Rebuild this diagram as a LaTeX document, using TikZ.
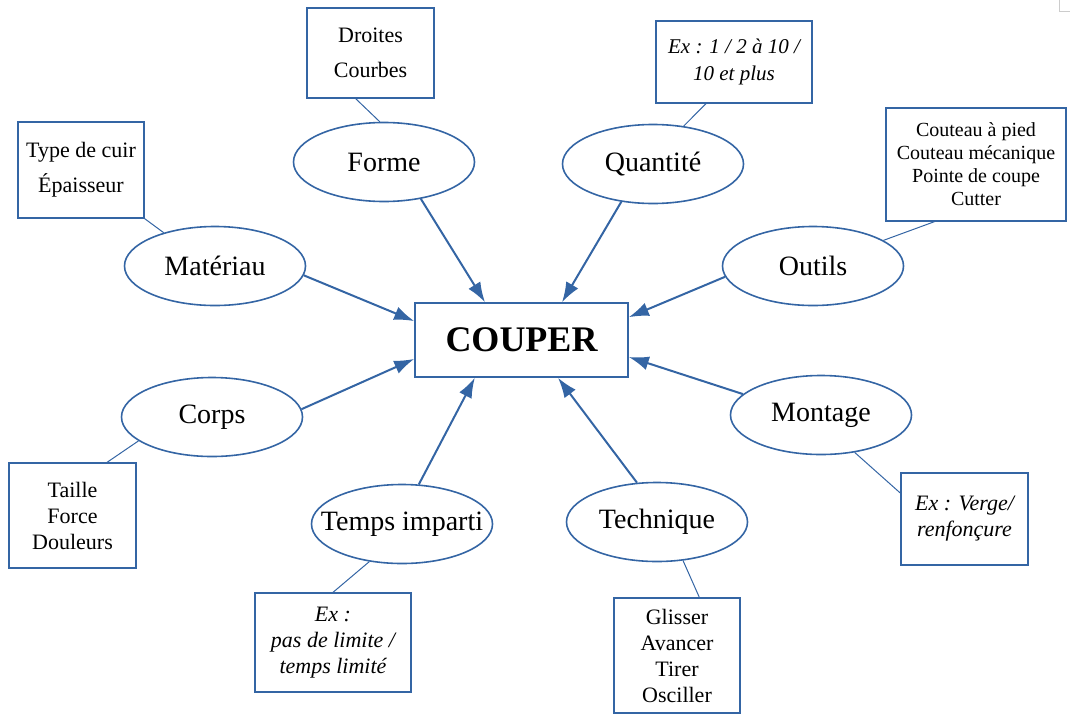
\documentclass[tikz,border=0pt]{standalone}
\usepackage{fontspec}
\setmainfont{Liberation Serif}
\usepackage{xcolor}
\usetikzlibrary{shapes.geometric, arrows.meta, positioning}
\definecolor{lineblue}{HTML}{3465A4}

\begin{document}
\begin{tikzpicture}[x=1pt, y=-1pt,
            idea/.style={ellipse, draw=lineblue, line width=1.6pt, minimum width=181pt, minimum height=79pt, inner xsep=-20pt, inner ysep=0pt, font=\fontsize{28}{32}\selectfont},
            detail/.style={rectangle, draw=lineblue, line width=1.3pt, inner sep=0pt, align=center, font=\fontsize{22}{26}\selectfont},
            feed/.style={draw=lineblue, line width=2pt, -{Latex[length=20pt, width=14pt]}},
            tie/.style={draw=lineblue, line width=1pt}]
            \useasboundingbox (0,0) rectangle (1070,715);
            
            % Central box
            \node[rectangle, draw=lineblue, line width=1.6pt, minimum width=213pt, minimum height=74pt, font=\fontsize{36}{40}\selectfont\bfseries] (couper) at (521.5,340) {COUPER};
            
            % Ellipses around it
            \node[idea] (forme) at (384,162) {Forme};
            \node[idea] (materiau) at (215,266) {Matériau};
            \node[idea] (quantite) at (653,164) {Quantité};
            \node[idea] (outils) at (813,266) {Outils};
            \node[idea] (corps) at (212,417) {Corps};
            \node[idea] (temps) at (402,524) {Temps imparti};
            \node[idea] (montage) at (821,415) {Montage};
            \node[idea] (technique) at (657,522) {Technique};
            
            % Detail boxes
            \node[detail, minimum width=127pt, minimum height=90pt, font=\fontsize{22}{35}\selectfont] (droites) at (370.5,53) {Droites\\Courbes};
            \node[detail, minimum width=126pt, minimum height=96pt, font=\fontsize{22}{35}\selectfont] (cuir) at (81,170) {Type de cuir\\Épaisseur};
            \node[detail, minimum width=156pt, minimum height=82pt, font=\fontsize{21}{27}\selectfont\itshape] (nombre) at (734,62) {Ex : 1 / 2 à 10 /\\10 et plus};
            \node[detail, minimum width=180pt, minimum height=113pt, font=\fontsize{20}{23}\selectfont] (lames) at (976,164.5) {Couteau à pied\\Couteau mécanique\\Pointe de coupe\\Cutter};
            \node[detail, minimum width=127pt, minimum height=105pt] (physique) at (72.5,515.5) {Taille\\Force\\Douleurs};
            \node[detail, minimum width=156pt, minimum height=99pt, font=\fontsize{22}{26}\selectfont\itshape] (delai) at (333,642.5) {Ex :\\pas de limite /\\temps limité};
            \node[detail, minimum width=127pt, minimum height=92pt, font=\fontsize{22}{26}\selectfont\itshape] (verge) at (964.5,519) {Ex : Verge/\\renfonçure};
            \node[detail, minimum width=126pt, minimum height=115pt] (gestes) at (677,655.5) {Glisser\\Avancer\\Tirer\\Osciller};
            
            % Arrows into the centre
            \draw[feed] (forme.-45) -- (couper.134);
            \draw[feed] (materiau.-6) -- (couper.170);
            \draw[feed] (quantite.-130) -- (couper.43);
            \draw[feed] (outils.-173) -- (couper.12);
            \draw[feed] (corps.5) -- (couper.190);
            \draw[feed] (temps.67) -- (couper.219);
            \draw[feed] (montage.165) -- (couper.-9);
            \draw[feed] (technique.117) -- (couper.-46);
            
            % Thin links to the boxes
            \draw[tie] (droites.-108) -- (forme.96);
            \draw[tie] (cuir.south east) -- (materiau.147);
            \draw[tie] (nombre.-124) -- (quantite.51);
            \draw[tie] (lames.-126) -- (outils.20);
            \draw[tie] (physique.57) -- (corps.-162);
            \draw[tie] (delai.north) -- (temps.-131);
            \draw[tie] (verge.158) -- (montage.-48);
            \draw[tie] (gestes.69) -- (technique.-56);
            
            \draw[black!20, line width=1pt] (1059,0) -- (1059,11) -- (1070,11);
        \end{tikzpicture}
\end{document}
